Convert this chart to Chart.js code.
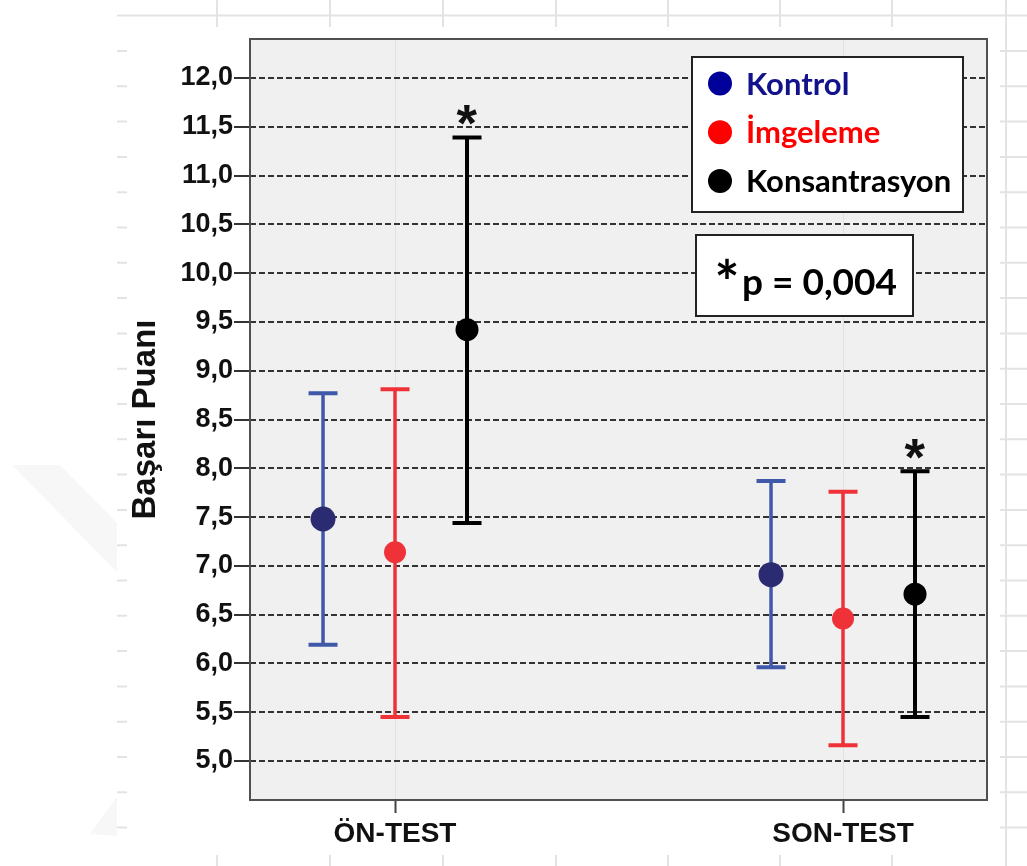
<!DOCTYPE html>
<html><head><meta charset="utf-8">
<script src="https://cdn.jsdelivr.net/npm/chart.js@4.4.0/dist/chart.umd.min.js"></script>
<style>html,body{margin:0;padding:0;background:#fff;} #wrap{width:1027px;height:866px;position:relative;}</style>
</head><body><div id="wrap"><canvas id="c" width="1027" height="866"></canvas></div>
<script>
// ---- data ----
const categories = ['ÖN-TEST', 'SON-TEST'];
const seriesNames = ['Kontrol', 'İmgeleme', 'Konsantrasyon'];
const kontrolMean = [7.48, 6.91];
const kontrolLower = [6.19, 5.96];
const kontrolUpper = [8.77, 7.87];
const imgelemeMean = [7.14, 6.46];
const imgelemeLower = [5.45, 5.16];
const imgelemeUpper = [8.81, 7.76];
const konsantrasyonMean = [9.42, 6.71];
const konsantrasyonLower = [7.44, 5.45];
const konsantrasyonUpper = [11.39, 7.97];
const konsantrasyonSignificant = [true, true];
const yTickValues = [5.0, 5.5, 6.0, 6.5, 7.0, 7.5, 8.0, 8.5, 9.0, 9.5, 10.0, 10.5, 11.0, 11.5, 12.0];
const yAxisTitle = 'Başarı Puanı';
const pValueLabel = 'p = 0,004';
const starLabel = '*';

// ---- styles ----
const seriesStyle = [
  {point: '#2a2b70', bar: '#4058a8', legend: '#00009a', text: '#12128c', r: 12.5, w: 3.5},
  {point: '#ee3238', bar: '#ee3238', legend: '#ff0000', text: '#ff0000', r: 11, w: 3.5},
  {point: '#000000', bar: '#000000', legend: '#000000', text: '#000000', r: 11.5, w: 4}
];
const groupShift = [-0.1607, 0, 0.1607];
const means = [kontrolMean, imgelemeMean, konsantrasyonMean];
const lowers = [kontrolLower, imgelemeLower, konsantrasyonLower];
const uppers = [kontrolUpper, imgelemeUpper, konsantrasyonUpper];

const datasets = seriesNames.map((name, s) => ({
  label: name,
  data: categories.map((c, i) => ({x: i + 1 + groupShift[s], y: means[s][i], lo: lowers[s][i], hi: uppers[s][i]})),
  pointRadius: seriesStyle[s].r,
  pointBackgroundColor: seriesStyle[s].point,
  pointBorderColor: seriesStyle[s].point,
  pointBorderWidth: 0,
  showLine: false
}));

function glyphFont(ctx, text, family, weight, targetH) {
  ctx.font = weight + ' 100px ' + family;
  const m = ctx.measureText(text);
  const h = m.actualBoundingBoxAscent + m.actualBoundingBoxDescent;
  const size = 100 * targetH / h;
  ctx.font = weight + ' ' + size + 'px ' + family;
  return ctx.measureText(text);
}
function drawCenteredGlyph(ctx, text, family, weight, targetH, cx, cy) {
  const m = glyphFont(ctx, text, family, weight, targetH);
  ctx.textAlign = 'left';
  ctx.textBaseline = 'alphabetic';
  const w = m.actualBoundingBoxRight + m.actualBoundingBoxLeft;
  const x = cx - w / 2 + m.actualBoundingBoxLeft;
  const y = cy + (m.actualBoundingBoxAscent - m.actualBoundingBoxDescent) / 2;
  ctx.fillText(text, x, y);
}

const decorPlugin = {
  id: 'decor',
  beforeDraw(chart) {
    const ctx = chart.ctx, a = chart.chartArea;
    ctx.save();
    ctx.fillStyle = '#ffffff';
    ctx.fillRect(0, 0, chart.width, chart.height);
    // faint watermark shapes
    ctx.fillStyle = '#f7f7f7';
    ctx.beginPath(); ctx.moveTo(12, 465); ctx.lineTo(60, 465); ctx.lineTo(117, 523); ctx.lineTo(117, 572); ctx.closePath(); ctx.fill();
    ctx.beginPath(); ctx.moveTo(90, 834); ctx.lineTo(117, 797); ctx.lineTo(117, 836); ctx.closePath(); ctx.fill();
    // faint sheet lines
    ctx.strokeStyle = '#e3e3e3';
    ctx.lineWidth = 2;
    ctx.beginPath();
    ctx.moveTo(117, 15.5); ctx.lineTo(1027, 15.5);
    [217, 330, 443, 556, 668, 780, 892].forEach(x => { ctx.moveTo(x, 0); ctx.lineTo(x, 27); ctx.moveTo(x, 855); ctx.lineTo(x, 866); });
    ctx.moveTo(1006, 0); ctx.lineTo(1006, 866);
    for (let y = 51; y < 850; y += 35.3) { ctx.moveTo(117, y); ctx.lineTo(127, y); ctx.moveTo(1000, y); ctx.lineTo(1027, y); }
    ctx.stroke();
    // plot background
    ctx.fillStyle = '#f0f0f0';
    ctx.fillRect(a.left, a.top, a.right - a.left, a.bottom - a.top);
    ctx.restore();
  },
  beforeDatasetsDraw(chart) {
    const ctx = chart.ctx, xs = chart.scales.x, ys = chart.scales.y;
    ctx.save();
    chart.data.datasets.forEach((ds, s) => {
      const st = seriesStyle[s];
      ds.data.forEach(p => {
        const px = xs.getPixelForValue(p.x);
        const yl = ys.getPixelForValue(p.lo), yh = ys.getPixelForValue(p.hi);
        ctx.strokeStyle = st.bar;
        ctx.lineWidth = st.w;
        ctx.beginPath(); ctx.moveTo(px, yh); ctx.lineTo(px, yl); ctx.stroke();
        ctx.lineWidth = 4;
        ctx.beginPath();
        ctx.moveTo(px - 14.5, yh); ctx.lineTo(px + 14.5, yh);
        ctx.moveTo(px - 14.5, yl); ctx.lineTo(px + 14.5, yl);
        ctx.stroke();
      });
    });
    ctx.restore();
  },
  afterDatasetsDraw(chart) {
    const ctx = chart.ctx, xs = chart.scales.x, ys = chart.scales.y, a = chart.chartArea;
    ctx.save();
    // significance stars
    ctx.fillStyle = '#111';
    chart.data.datasets[2].data.forEach((p, i) => {
      if (!konsantrasyonSignificant[i]) return;
      drawCenteredGlyph(ctx, starLabel, '"Liberation Sans", Arial', 'bold', 20, xs.getPixelForValue(p.x), ys.getPixelForValue(p.hi) - 22.5);
    });
    // frame
    ctx.strokeStyle = '#505050';
    ctx.lineWidth = 2;
    ctx.strokeRect(a.left, a.top, a.right - a.left, a.bottom - a.top);
    // legend box
    ctx.fillStyle = '#ffffff';
    ctx.fillRect(692, 57, 271, 155);
    ctx.strokeStyle = '#222';
    ctx.lineWidth = 2;
    ctx.strokeRect(692, 57, 271, 155);
    chart.data.datasets.forEach((ds, s) => {
      const cy = 83.5 + s * 48.7;
      ctx.fillStyle = seriesStyle[s].legend;
      ctx.beginPath(); ctx.arc(720, cy, 12, 0, Math.PI * 2); ctx.fill();
      ctx.fillStyle = seriesStyle[s].text;
      ctx.font = 'bold 31px Lato, "Liberation Sans", sans-serif';
      ctx.textAlign = 'left';
      ctx.textBaseline = 'alphabetic';
      ctx.fillText(ds.label, 746, cy + 11);
    });
    // p-value box
    ctx.fillStyle = '#ffffff';
    ctx.fillRect(696, 235, 217, 81);
    ctx.strokeStyle = '#222';
    ctx.strokeRect(696, 235, 217, 81);
    ctx.fillStyle = '#000';
    drawCenteredGlyph(ctx, starLabel, 'Lato, "Liberation Sans", sans-serif', 'bold', 20, 727, 268);
    ctx.font = 'bold 37px Lato, "Liberation Sans", sans-serif';
    ctx.textAlign = 'left';
    ctx.textBaseline = 'alphabetic';
    ctx.fillText(pValueLabel, 742, 295);
    ctx.restore();
  }
};

new Chart(document.getElementById('c'), {
  type: 'scatter',
  data: {datasets},
  options: {
    responsive: false,
    animation: false,
    events: [],
    layout: {padding: {left: 0, top: 39, right: 40, bottom: 0}},
    plugins: {legend: {display: false}, tooltip: {enabled: false}},
    scales: {
      x: {
        type: 'linear',
        min: 0.6763,
        max: 2.3214,
        afterBuildTicks: sc => { sc.ticks = categories.map((c, i) => ({value: i + 1})); },
        afterFit: sc => { sc.height = 66; },
        ticks: {
          callback: v => categories[Math.round(v) - 1],
          font: {family: '"Liberation Sans", Arial, sans-serif', size: 28, weight: 'bold'},
          color: '#111',
          padding: 4,
          maxRotation: 0
        },
        grid: {color: 'rgba(0,0,0,0.06)', lineWidth: 1, tickLength: 13, tickColor: '#444', tickWidth: 2},
        border: {display: false}
      },
      y: {
        min: 4.6,
        max: 12.4,
        afterBuildTicks: sc => { sc.ticks = yTickValues.map(v => ({value: v})); },
        afterFit: sc => { sc.width = 250; },
        ticks: {
          callback: v => v.toFixed(1).replace('.', ','),
          font: {family: '"Liberation Sans", Arial, sans-serif', size: 27, weight: 'bold'},
          color: '#111',
          padding: 1
        },
        grid: {color: '#333333', lineWidth: 2, tickLength: 16, tickColor: '#333', tickWidth: 2, tickBorderDash: []},
        border: {display: false, dash: [6, 3]},
        title: {
          display: true,
          text: yAxisTitle,
          font: {family: '"Liberation Sans", Arial, sans-serif', size: 33, weight: 'bold'},
          color: '#111',
          padding: {top: 126, bottom: 0}
        }
      }
    }
  },
  plugins: [decorPlugin]
});
</script>
</body></html>
